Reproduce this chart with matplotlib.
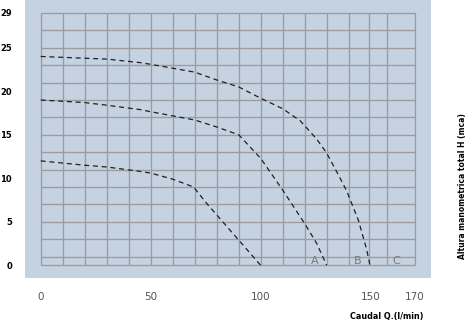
import numpy as np
from matplotlib import pyplot as plt

# Curvas de la bomba: caudal Q (l/min) y altura H (mca)
curva_alta_q = [0, 20, 30, 45, 50, 70, 80, 90, 100, 110, 118, 125.5, 130, 135.3, 139, 144.4, 148.2, 149.7]
curva_alta_h = [24.0, 23.8, 23.7, 23.3, 23.1, 22.2, 21.3, 20.5, 19.2, 18.0, 16.6, 14.5, 12.9, 10.4, 8.6, 5.2, 1.8, 0]

curva_media_q = [0, 20, 30, 45, 50, 70, 80, 90, 100, 110, 120, 125.5, 130]
curva_media_h = [19.0, 18.7, 18.4, 17.9, 17.65, 16.7, 15.9, 15.0, 12.3, 8.65, 4.8, 2.5, 0]

curva_baja_q = [0, 20, 30, 45, 50, 60, 69.5, 75.5, 80, 90, 100]
curva_baja_h = [12.0, 11.5, 11.3, 10.8, 10.6, 9.9, 9.0, 7.1, 5.8, 2.9, 0]

# Letras de las curvas
letras = ['A', 'B', 'C']
letras_q = [124.4, 143.9, 161.8]

# Rejilla y ticks
rejilla_q = [0, 10, 20, 30, 40, 50, 60, 70, 80, 90, 100, 110, 120, 130, 140, 149.1, 157.5, 170]
rejilla_h = [0, 1, 3, 5, 7, 9, 11, 13, 15, 17, 19, 21, 23, 25, 27, 29]
ticks_q = [0, 50, 100, 150, 170]
ticks_h = [0, 5, 10, 15, 20, 25, 29]

fig = plt.figure(figsize=(4.69, 3.22), dpi=100)
ax = fig.add_axes([25.3 / 469, 44 / 322, 405.4 / 469, 278 / 322])
ax.set_facecolor('#c5d2e1')
ax.set_xlim(-7, 177.3)
ax.set_ylim(-1.46, 30.49)

for s in ax.spines.values():
    s.set_visible(False)

color_rejilla = '#9c9c9c'
ax.hlines(rejilla_h, rejilla_q[0], rejilla_q[-1], color=color_rejilla, lw=0.95, zorder=1)
ax.vlines(rejilla_q, rejilla_h[0], rejilla_h[-1], color=color_rejilla, lw=0.95, zorder=1)

for q, h in [(curva_alta_q, curva_alta_h), (curva_media_q, curva_media_h), (curva_baja_q, curva_baja_h)]:
    ax.plot(q, h, color='#1f1f1f', lw=0.9, linestyle=(0, (4, 3)), zorder=3)

for letra, q in zip(letras, letras_q):
    ax.text(q, 0.5, letra, ha='center', va='center', fontsize=8, color='#7a7a7a', zorder=4)

ax.set_xticks(ticks_q)
ax.set_xticklabels([str(t) for t in ticks_q])
ax.set_yticks(ticks_h)
ax.set_yticklabels([str(t) for t in ticks_h])
ax.tick_params(axis='x', length=0, pad=10, labelsize=7.5, labelcolor='#555555')
ax.tick_params(axis='y', length=0, pad=9.5, labelsize=6, labelcolor='black')
for lab in ax.get_yticklabels():
    lab.set_fontweight('bold')

fig.text(386.7 / 469, 1 - 316 / 322, 'Caudal Q.(l/min)', ha='center', va='center',
         fontsize=5.8, fontweight='bold')
fig.text(462 / 469, 1 - 186 / 322, 'Altura manometrica total H (mca)', ha='center', va='center',
         rotation=90, fontsize=5.5, fontweight='bold')

fig.savefig('out.png', dpi=100)
